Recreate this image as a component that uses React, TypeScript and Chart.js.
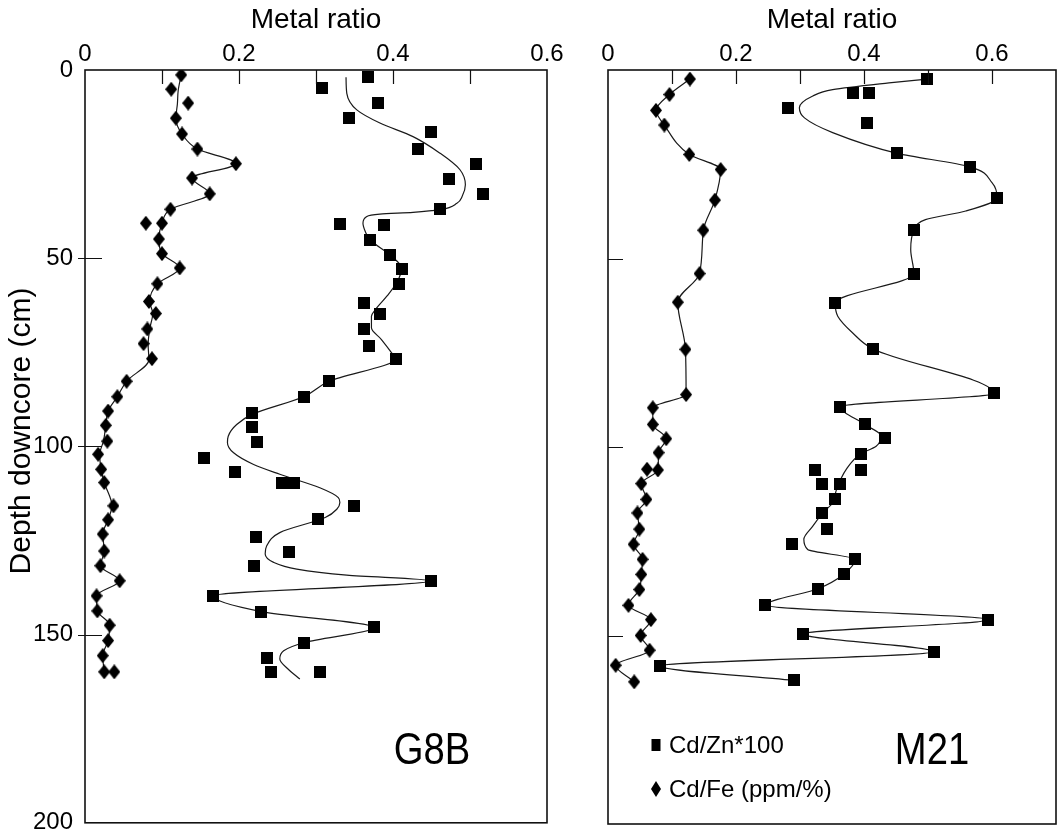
import React, { useEffect, useRef } from 'react';
import { Chart, registerables } from 'chart.js';

Chart.register(...registerables);

const FONT_FAMILY = "'Liberation Sans', Arial, Helvetica, sans-serif";

// ---- axis / text content ----
const X_TITLE = 'Metal ratio';
const Y_TITLE = 'Depth downcore (cm)';
const X_TICK_LABELS = ['0', '0.2', '0.4', '0.6'];
const DEPTH_STEP = 50;
const LEGEND_LABELS = ['Cd/Zn*100', 'Cd/Fe (ppm/%)'];
const PANEL_NAMES = ['G8B', 'M21'];

// ---- G8B core ----
const G8B_ZN_DEPTH = [1.8, 4.9, 8.8, 12.8, 16.6, 21.0, 24.9, 28.9, 33.0, 37.0, 40.9, 41.3, 45.1, 49.1, 52.8, 56.8, 62.0, 64.7, 68.8, 73.2, 76.9, 82.7, 86.8, 91.1, 94.8, 98.8, 103.0, 106.8, 109.8, 109.8, 115.8, 119.2, 124.0, 128.0, 131.9, 135.7, 139.7, 143.9, 148.1, 152.1, 156.1, 160.0, 160.0];
const G8B_ZN_RATIO = [0.367, 0.308, 0.380, 0.343, 0.449, 0.432, 0.508, 0.473, 0.517, 0.461, 0.331, 0.388, 0.370, 0.396, 0.412, 0.408, 0.362, 0.383, 0.362, 0.369, 0.404, 0.317, 0.284, 0.217, 0.217, 0.223, 0.154, 0.195, 0.256, 0.271, 0.349, 0.303, 0.222, 0.265, 0.220, 0.449, 0.166, 0.229, 0.375, 0.285, 0.236, 0.242, 0.305];

const G8B_ZN_CURVE_DEPTH = [1.9, 6.2, 10.6, 14.1, 17.7, 22.1, 26.5, 30.5, 33.5, 35.4, 37.1, 37.8, 38.3, 38.9, 40.7, 42.9, 45.1, 49.1, 52.6, 55.7, 60.1, 63.7, 65.4, 68.5, 71.6, 75.1, 76.7, 82.7, 86.8, 91.5, 94.2, 97.3, 99.0, 101.7, 104.8, 107.4, 111.0, 113.6, 114.9, 116.7, 118.9, 122.9, 126.4, 128.6, 130.8, 132.6, 134.2, 135.7, 139.7, 143.9, 148.1, 152.1, 154.3, 156.5, 159.2, 161.8];
const G8B_ZN_CURVE_RATIO = [0.339, 0.340, 0.353, 0.383, 0.426, 0.461, 0.487, 0.494, 0.490, 0.483, 0.461, 0.426, 0.383, 0.366, 0.361, 0.364, 0.370, 0.396, 0.411, 0.407, 0.392, 0.377, 0.372, 0.372, 0.385, 0.398, 0.403, 0.317, 0.284, 0.217, 0.197, 0.186, 0.185, 0.193, 0.219, 0.253, 0.305, 0.329, 0.331, 0.327, 0.312, 0.253, 0.236, 0.234, 0.245, 0.275, 0.340, 0.449, 0.166, 0.229, 0.375, 0.285, 0.258, 0.253, 0.264, 0.279];

const G8B_FE_DEPTH = [1.3, 5.1, 8.8, 12.8, 17.0, 21.0, 24.9, 28.7, 32.9, 37.0, 40.7, 40.7, 44.9, 48.8, 52.6, 56.8, 61.5, 64.7, 68.8, 72.7, 76.7, 82.7, 86.8, 90.6, 94.4, 98.6, 102.1, 106.1, 109.6, 115.8, 119.5, 123.3, 127.8, 131.7, 135.7, 139.7, 143.7, 147.5, 151.6, 155.6, 159.9, 159.9];
const G8B_FE_RATIO = [0.125, 0.112, 0.134, 0.118, 0.126, 0.146, 0.196, 0.139, 0.162, 0.111, 0.079, 0.100, 0.096, 0.100, 0.123, 0.094, 0.083, 0.092, 0.081, 0.076, 0.087, 0.054, 0.042, 0.030, 0.027, 0.029, 0.017, 0.021, 0.025, 0.037, 0.030, 0.023, 0.025, 0.020, 0.045, 0.015, 0.016, 0.032, 0.030, 0.023, 0.025, 0.038];

const G8B_FE_CURVE_DEPTH = [1.3, 5.5, 9.0, 12.8, 17.0, 21.0, 24.9, 28.7, 32.9, 37.0, 40.7, 44.9, 48.8, 52.6, 56.8, 61.5, 64.7, 68.8, 73.0, 77.0, 82.7, 86.8, 90.6, 94.4, 98.6, 102.1, 106.1, 109.6, 115.8, 119.5, 123.3, 127.8, 131.7, 135.7, 139.7, 143.7, 147.5, 151.6, 155.6, 159.9];
const G8B_FE_CURVE_RATIO = [0.125, 0.121, 0.120, 0.118, 0.126, 0.146, 0.196, 0.139, 0.162, 0.111, 0.100, 0.096, 0.100, 0.123, 0.094, 0.084, 0.088, 0.084, 0.082, 0.083, 0.054, 0.042, 0.030, 0.027, 0.024, 0.019, 0.021, 0.025, 0.035, 0.030, 0.023, 0.025, 0.020, 0.045, 0.015, 0.016, 0.032, 0.030, 0.023, 0.025];

// ---- M21 core ----
const M21_ZN_DEPTH = [2.4, 6.1, 6.1, 10.2, 14.0, 22.1, 25.7, 33.9, 42.5, 54.0, 61.8, 74.0, 85.8, 89.3, 94.0, 97.7, 101.8, 106.0, 106.0, 109.8, 109.8, 113.9, 117.6, 121.8, 125.6, 129.8, 133.8, 137.6, 142.0, 145.8, 149.6, 154.3, 158.1, 161.9];
const M21_ZN_RATIO = [0.499, 0.383, 0.408, 0.281, 0.404, 0.452, 0.566, 0.608, 0.478, 0.478, 0.355, 0.414, 0.603, 0.363, 0.401, 0.433, 0.395, 0.323, 0.395, 0.335, 0.363, 0.355, 0.335, 0.342, 0.287, 0.386, 0.368, 0.328, 0.246, 0.594, 0.305, 0.509, 0.081, 0.290];

const M21_ZN_CURVE_DEPTH = [2.4, 3.4, 5.2, 6.9, 10.0, 12.7, 16.6, 22.1, 25.7, 29.9, 33.9, 37.4, 39.7, 42.5, 47.6, 54.0, 61.8, 65.3, 69.7, 74.0, 85.8, 89.3, 94.0, 97.1, 99.8, 101.8, 106.0, 111.3, 114.8, 117.6, 121.0, 124.5, 127.2, 129.8, 133.8, 137.6, 142.0, 145.8, 149.6, 154.3, 158.1, 161.9];
const M21_ZN_CURVE_RATIO = [0.499, 0.439, 0.351, 0.320, 0.299, 0.307, 0.351, 0.452, 0.566, 0.600, 0.608, 0.559, 0.496, 0.478, 0.473, 0.478, 0.355, 0.359, 0.382, 0.414, 0.603, 0.363, 0.401, 0.427, 0.419, 0.395, 0.372, 0.357, 0.351, 0.335, 0.320, 0.306, 0.312, 0.386, 0.368, 0.328, 0.246, 0.594, 0.305, 0.509, 0.081, 0.290];

const M21_FE_DEPTH = [2.4, 6.5, 10.7, 14.6, 22.4, 26.4, 34.5, 42.5, 54.0, 61.6, 74.1, 86.1, 89.6, 94.0, 97.8, 101.5, 105.9, 106.1, 109.7, 113.9, 117.5, 121.8, 125.8, 129.8, 133.8, 137.8, 142.0, 145.8, 150.0, 153.9, 157.9, 162.3];
const M21_FE_RATIO = [0.128, 0.096, 0.075, 0.088, 0.127, 0.176, 0.167, 0.149, 0.143, 0.109, 0.121, 0.122, 0.070, 0.070, 0.091, 0.079, 0.061, 0.078, 0.052, 0.060, 0.046, 0.049, 0.040, 0.054, 0.052, 0.049, 0.032, 0.067, 0.051, 0.065, 0.012, 0.041];

const M21_FE_CURVE_DEPTH = [2.4, 6.5, 10.7, 14.6, 22.4, 26.4, 34.5, 42.5, 54.0, 61.6, 74.1, 86.1, 89.6, 94.0, 97.8, 101.5, 106.1, 109.7, 113.9, 117.5, 121.8, 125.8, 129.8, 133.8, 137.8, 142.0, 145.8, 150.0, 153.9, 157.9, 162.3];
const M21_FE_CURVE_RATIO = [0.128, 0.096, 0.075, 0.088, 0.127, 0.176, 0.167, 0.149, 0.143, 0.109, 0.121, 0.122, 0.070, 0.070, 0.091, 0.079, 0.078, 0.052, 0.060, 0.046, 0.049, 0.040, 0.054, 0.052, 0.049, 0.032, 0.067, 0.051, 0.065, 0.012, 0.041];

const pts = (depth: number[], ratio: number[]) => depth.map((d, i) => ({ x: ratio[i], y: d }));

function makeMarker(kind: 'square' | 'diamond', w: number, h: number) {
  const c = document.createElement('canvas');
  c.width = w;
  c.height = h;
  const g = c.getContext('2d')!;
  g.fillStyle = '#000';
  if (kind === 'square') {
    g.fillRect(0, 0, w, h);
  } else {
    g.beginPath();
    g.moveTo(w / 2, 0);
    g.lineTo(w, h / 2);
    g.lineTo(w / 2, h);
    g.lineTo(0, h / 2);
    g.closePath();
    g.fill();
  }
  return c;
}

const framePlugin = {
  id: 'frame',
  afterDatasetsDraw(chart: any, _args: any, opts: any) {
    const { ctx, chartArea: a, scales } = chart;
    const xs = scales.x;
    const ys = scales.y;
    ctx.save();
    ctx.strokeStyle = '#111';
    ctx.lineWidth = 1.6;
    ctx.strokeRect(a.left, a.top, a.right - a.left, a.bottom - a.top);
    ctx.lineWidth = 1.2;
    ctx.beginPath();
    xs.ticks.forEach((t: any) => {
      if (t.value > 1e-6 && t.value < xs.max - 1e-6) {
        const px = Math.round(xs.getPixelForValue(t.value)) + 0.5;
        ctx.moveTo(px, a.top);
        ctx.lineTo(px, a.top + opts.xTick);
      }
    });
    ys.ticks.forEach((t: any) => {
      if (t.value > 0 && t.value < ys.max) {
        const py = Math.round(ys.getPixelForValue(t.value)) + 0.5;
        ctx.moveTo(a.left - opts.yOut, py);
        ctx.lineTo(a.left + opts.yIn, py);
      }
    });
    ctx.stroke();

    const ox = opts.offsetX;
    ctx.fillStyle = '#000';

    // depth axis title
    if (opts.yTitle) {
      ctx.save();
      ctx.translate(opts.yTitle.x - ox, opts.yTitle.y);
      ctx.rotate(-Math.PI / 2);
      ctx.font = `${opts.yTitle.size}px ${FONT_FAMILY}`;
      ctx.textAlign = 'center';
      ctx.textBaseline = 'middle';
      ctx.fillText(Y_TITLE, 0, 0);
      ctx.restore();
    }

    // panel name
    ctx.save();
    ctx.translate(opts.nameX - ox, opts.nameY);
    ctx.scale(opts.nameScale, 1);
    ctx.font = `${opts.nameSize}px ${FONT_FAMILY}`;
    ctx.textAlign = 'center';
    ctx.textBaseline = 'alphabetic';
    ctx.fillText(opts.name, 0, 0);
    ctx.restore();

    if (opts.legend) {
      const lg = opts.legend;
      const sq = lg.square;
      const di = lg.diamond;
      ctx.fillRect(lg.markerX - ox - sq[0] / 2, lg.row1 - sq[1] / 2, sq[0], sq[1]);
      ctx.beginPath();
      ctx.moveTo(lg.markerX - ox, lg.row2 - di[1] / 2);
      ctx.lineTo(lg.markerX - ox + di[0] / 2, lg.row2);
      ctx.lineTo(lg.markerX - ox, lg.row2 + di[1] / 2);
      ctx.lineTo(lg.markerX - ox - di[0] / 2, lg.row2);
      ctx.closePath();
      ctx.fill();
      ctx.font = `${lg.size}px ${FONT_FAMILY}`;
      ctx.textAlign = 'left';
      ctx.textBaseline = 'middle';
      ctx.fillText(LEGEND_LABELS[0], lg.textX - ox, lg.row1 + 1);
      ctx.fillText(LEGEND_LABELS[1], lg.textX - ox, lg.row2 + 1);
    }
    ctx.restore();
  },
};

type PanelSpec = {
  left: number;
  width: number;
  xMax: number;
  yAxisWidth: number;
  padRight: number;
  showY: boolean;
  zn: [number[], number[]];
  znCurve: [number[], number[]];
  fe: [number[], number[]];
  feCurve: [number[], number[]];
  name: string;
  nameX: number;
  yOut: number;
  yIn: number;
  legend: boolean;
};

function buildConfig(p: PanelSpec): any {
  const square = makeMarker('square', 12, 12);
  const diamond = makeMarker('diamond', 12, 15);
  const lineDs = (d: [number[], number[]], label: string) => ({
    label,
    data: pts(d[0], d[1]),
    showLine: true,
    indexAxis: 'y',
    cubicInterpolationMode: 'monotone',
    borderColor: '#1a1a1a',
    borderWidth: 1.2,
    pointRadius: 0,
    fill: false,
    order: 2,
  });
  const pointDs = (d: [number[], number[]], label: string, style: HTMLCanvasElement) => ({
    label,
    data: pts(d[0], d[1]),
    showLine: false,
    pointStyle: style,
    pointRadius: 6,
    backgroundColor: '#000',
    borderColor: '#000',
    order: 1,
  });
  return {
    type: 'scatter',
    data: {
      datasets: [
        lineDs(p.znCurve, LEGEND_LABELS[0] + ' fit'),
        lineDs(p.feCurve, LEGEND_LABELS[1] + ' fit'),
        pointDs(p.zn, LEGEND_LABELS[0], square),
        pointDs(p.fe, LEGEND_LABELS[1], diamond),
      ],
    },
    options: {
      responsive: false,
      animation: false,
      events: [],
      layout: { padding: { left: 0, right: p.padRight, top: 0, bottom: 12 } },
      scales: {
        x: {
          type: 'linear',
          position: 'top',
          min: 0,
          max: p.xMax,
          grid: { display: false, drawTicks: false },
          border: { display: false },
          ticks: {
            stepSize: 0.1,
            autoSkip: false,
            maxRotation: 0,
            padding: 1,
            color: '#000',
            font: { family: FONT_FAMILY, size: 24, lineHeight: 1.2 },
            callback: (v: number) => {
              const r = Math.round(v * 10);
              const s = r === 0 ? '0' : (r / 10).toString();
              return X_TICK_LABELS.includes(s) ? s : '';
            },
          },
          title: {
            display: true,
            text: X_TITLE,
            color: '#000',
            font: { family: FONT_FAMILY, size: 28, lineHeight: 1.2 },
            padding: { top: 3, bottom: 0 },
          },
          afterFit: (s: any) => {
            s.height = 70;
          },
        },
        y: {
          type: 'linear',
          reverse: true,
          min: 0,
          max: 200,
          grid: { display: false, drawTicks: false },
          border: { display: false },
          ticks: {
            stepSize: DEPTH_STEP,
            display: p.showY,
            padding: 12,
            color: '#000',
            font: { family: FONT_FAMILY, size: 24, lineHeight: 0.1 },
          },
          afterFit: (s: any) => {
            s.width = p.yAxisWidth;
          },
        },
      },
      plugins: {
        legend: { display: false },
        tooltip: { enabled: false },
        frame: {
          offsetX: p.left,
          xTick: 14,
          yOut: p.yOut,
          yIn: p.yIn,
          yTitle: p.showY ? { x: 22, y: 431, size: 30 } : null,
          name: p.name,
          nameX: p.nameX,
          nameY: 764,
          nameSize: 45,
          nameScale: 0.85,
          legend: p.legend
            ? { markerX: 656, textX: 669, row1: 745, row2: 789, size: 24, square: [9, 12], diamond: [10, 16] }
            : null,
        },
      },
    },
    plugins: [framePlugin],
  };
}

const PANELS: PanelSpec[] = [
  {
    left: 0,
    width: 575,
    xMax: 0.6,
    yAxisWidth: 85,
    padRight: 28,
    showY: true,
    zn: [G8B_ZN_DEPTH, G8B_ZN_RATIO],
    znCurve: [G8B_ZN_CURVE_DEPTH, G8B_ZN_CURVE_RATIO],
    fe: [G8B_FE_DEPTH, G8B_FE_RATIO],
    feCurve: [G8B_FE_CURVE_DEPTH, G8B_FE_CURVE_RATIO],
    name: PANEL_NAMES[0],
    nameX: 432,
    yOut: 7,
    yIn: 17,
    legend: false,
  },
  {
    left: 575,
    width: 488,
    xMax: 0.7,
    yAxisWidth: 33,
    padRight: 5,
    showY: false,
    zn: [M21_ZN_DEPTH, M21_ZN_RATIO],
    znCurve: [M21_ZN_CURVE_DEPTH, M21_ZN_CURVE_RATIO],
    fe: [M21_FE_DEPTH, M21_FE_RATIO],
    feCurve: [M21_FE_CURVE_DEPTH, M21_FE_CURVE_RATIO],
    name: PANEL_NAMES[1],
    nameX: 932,
    yOut: 0,
    yIn: 15,
    legend: true,
  },
];

function Panel({ spec }: { spec: PanelSpec }) {
  const ref = useRef<HTMLCanvasElement>(null);
  useEffect(() => {
    const chart = new Chart(ref.current!, buildConfig(spec));
    return () => chart.destroy();
  }, [spec]);
  return (
    <canvas
      ref={ref}
      width={spec.width}
      height={836}
      style={{ position: 'absolute', left: spec.left, top: 0, width: spec.width, height: 836 }}
    />
  );
}

export default function App() {
  return (
    <div style={{ position: 'absolute', left: 0, top: 0, width: 1063, height: 836, background: '#fff', overflow: 'hidden' }}>
      {PANELS.map((p) => (
        <Panel key={p.name} spec={p} />
      ))}
    </div>
  );
}
